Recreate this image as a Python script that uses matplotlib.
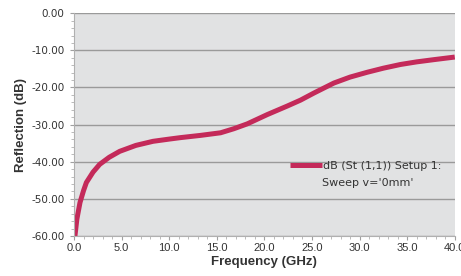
import numpy as np
import matplotlib.pyplot as plt
from matplotlib.ticker import MultipleLocator, FormatStrFormatter

# values
freq_ghz = [0.1, 0.3, 0.63, 1.0, 1.3, 2.0, 2.7, 3.7, 4.8, 6.5, 8.3, 10.0, 11.2, 13.3, 15.4,
            16.8, 18.2, 20.3, 22.4, 23.8, 25.2, 27.3, 29.0, 30.8, 32.5, 34.3, 36.0, 37.8, 40.0]
refl_db = [-60.0, -55.5, -51.0, -47.8, -45.6, -42.8, -40.7, -38.8, -37.2, -35.6, -34.5, -33.9, -33.5,
           -32.9, -32.2, -31.1, -29.8, -27.3, -25.0, -23.4, -21.5, -18.8, -17.2, -15.9, -14.8,
           -13.8, -13.1, -12.5, -11.8]
legend_label = "dB (St (1,1)) Setup 1:"
legend_label_2 = "Sweep v='0mm'"

plt.rcParams['font.family'] = ['Liberation Sans', 'DejaVu Sans']
plt.rcParams['axes.unicode_minus'] = False

fig = plt.figure(figsize=(4.61, 2.76), dpi=100)
ax = fig.add_axes([0.1605, 0.145, 0.826, 0.807])
ax.set_facecolor('#e1e2e3')

ax.plot(freq_ghz, refl_db, color='#c42a5a', lw=3.6, solid_capstyle='butt', label=legend_label)

ax.set_xlim(0, 40)
ax.set_ylim(-60, 0)
ax.xaxis.set_major_locator(MultipleLocator(5))
ax.xaxis.set_minor_locator(MultipleLocator(1))
ax.yaxis.set_major_locator(MultipleLocator(10))
ax.yaxis.set_minor_locator(MultipleLocator(2))
ax.xaxis.set_major_formatter(FormatStrFormatter('%.1f'))
ax.yaxis.set_major_formatter(FormatStrFormatter('%.2f'))

ax.grid(axis='y', which='major', color='#9a9a9a', lw=1.0)
ax.set_axisbelow(True)
for side in ['top', 'right']:
    ax.spines[side].set_visible(False)
ax.spines['left'].set_color('#b0b0b0')
ax.spines['bottom'].set_color('#b0b0b0')

ax.tick_params(which='major', length=3, color='#a0a0a0', labelcolor='#333333')
ax.tick_params(which='minor', length=2, color='#b0b0b0')
ax.tick_params(axis='x', labelsize=8, pad=2)
ax.tick_params(axis='y', pad=4)
for lbl in ax.get_yticklabels():
    lbl.set_family(['DejaVu Sans'])
    lbl.set_fontsize(7.5)

ax.set_xlabel('Frequency (GHz)', fontsize=9.5, fontweight='bold', color='#333333', labelpad=2)
ax.set_ylabel('Reflection (dB)', fontsize=9.5, fontweight='bold', color='#333333', labelpad=3)

ax.legend(loc='center left', bbox_to_anchor=(0.567, 0.314), frameon=False,
          handlelength=2.9, handletextpad=0.05, labelcolor='#333333', borderpad=0,
          borderaxespad=0, prop={'family': ['DejaVu Sans'], 'size': 8})
ax.text(0.651, 0.236, legend_label_2, transform=ax.transAxes, va='center', ha='left',
        fontsize=8, family=['DejaVu Sans'], color='#333333')

fig.savefig('out.png', dpi=100)
